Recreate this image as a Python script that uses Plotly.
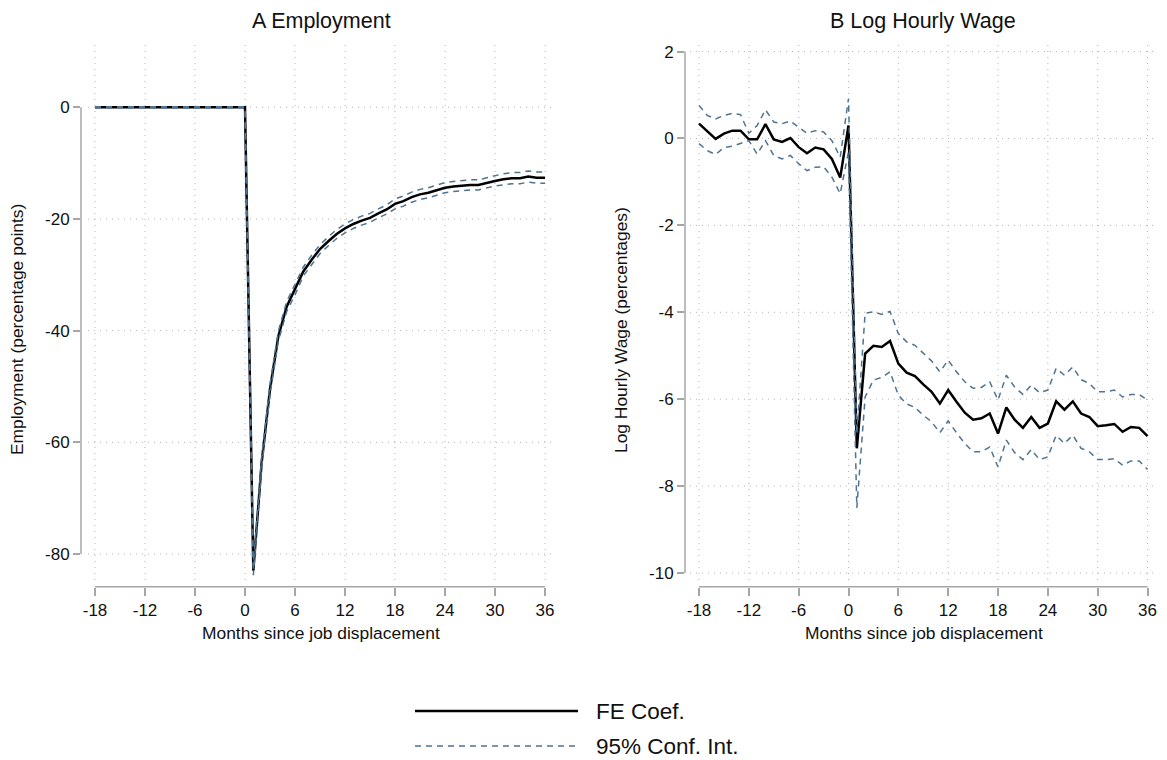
import plotly.graph_objects as go

W, H = 1167, 760

months = list(range(-18, 37))

# Panel A: employment effect (percentage points)
emp_coef = [0.0] * 19 + [
    -83.0, -63.6, -50.5, -41.0, -35.7, -32.7, -29.4, -27.3, -25.4, -24.0,
    -22.7, -21.7, -20.9, -20.3, -19.8, -19.0, -18.3, -17.3, -16.8, -16.1,
    -15.6, -15.3, -14.8, -14.4, -14.2, -14.0, -13.9, -13.9, -13.5, -13.2,
    -12.9, -12.7, -12.7, -12.4, -12.6, -12.6]
emp_upper = [0.1] * 19 + [
    -82.2, -62.7, -49.6, -40.1, -34.8, -31.8, -28.6, -26.5, -24.6, -23.2,
    -21.9, -20.9, -20.1, -19.5, -19.0, -18.2, -17.5, -16.4, -15.9, -15.2,
    -14.7, -14.4, -13.9, -13.5, -13.3, -13.1, -13.0, -13.0, -12.6, -12.3,
    -11.9, -11.7, -11.7, -11.4, -11.6, -11.6]
emp_lower = [-0.1] * 19 + [
    -83.8, -64.5, -51.4, -41.9, -36.6, -33.6, -30.2, -28.1, -26.2, -24.8,
    -23.5, -22.5, -21.7, -21.1, -20.6, -19.8, -19.1, -18.2, -17.7, -17.0,
    -16.5, -16.2, -15.7, -15.3, -15.1, -14.9, -14.8, -14.8, -14.4, -14.1,
    -13.9, -13.7, -13.7, -13.4, -13.6, -13.6]

# Panel B: log hourly wage effect (percentages)
wage_coef = [
    0.34, 0.17, -0.01, 0.11, 0.18, 0.18, -0.02, -0.02, 0.33, -0.02,
    -0.08, 0.01, -0.20, -0.34, -0.21, -0.25, -0.47, -0.90, 0.30,
    -7.13, -4.95, -4.77, -4.80, -4.66, -5.18, -5.39, -5.47, -5.66, -5.83,
    -6.10, -5.79, -6.06, -6.31, -6.47, -6.44, -6.33, -6.79, -6.19, -6.47,
    -6.66, -6.41, -6.66, -6.56, -6.05, -6.24, -6.05, -6.33, -6.41, -6.62,
    -6.60, -6.57, -6.75, -6.64, -6.66, -6.85]
wage_upper = [
    0.76, 0.53, 0.45, 0.53, 0.58, 0.55, 0.12, 0.30, 0.66, 0.38,
    0.34, 0.40, 0.26, 0.12, 0.18, 0.15, -0.05, -0.43, 0.92,
    -6.80, -4.02, -3.99, -4.05, -3.98, -4.49, -4.68, -4.76, -4.95, -5.12,
    -5.37, -5.10, -5.37, -5.60, -5.75, -5.73, -5.60, -6.02, -5.45, -5.72,
    -5.89, -5.68, -5.85, -5.79, -5.29, -5.45, -5.26, -5.55, -5.64, -5.83,
    -5.83, -5.79, -5.95, -5.89, -5.89, -6.02]
wage_lower = [
    -0.12, -0.28, -0.37, -0.21, -0.18, -0.12, -0.05, -0.36, -0.05, -0.39,
    -0.47, -0.39, -0.58, -0.74, -0.66, -0.65, -0.89, -1.27, -0.30,
    -8.50, -5.95, -5.56, -5.50, -5.37, -5.91, -6.11, -6.19, -6.37, -6.52,
    -6.77, -6.50, -6.77, -7.02, -7.21, -7.21, -7.10, -7.56, -6.94, -7.23,
    -7.39, -7.16, -7.39, -7.33, -6.83, -7.02, -6.83, -7.13, -7.21, -7.39,
    -7.39, -7.37, -7.52, -7.42, -7.42, -7.62]

x_ticks = list(range(-18, 37, 6))
emp_ticks = [0, -20, -40, -60, -80]
wage_ticks = [2, 0, -2, -4, -6, -8, -10]

FONT = "Liberation Sans, Arial, sans-serif"
TEXT_COLOR = "#111111"
COEF_COLOR = "#000000"
CI_COLOR = "#4f7390"
AXIS_COLOR = "#a6a6a6"
GRID_COLOR = "#b5b5b5"
CI_DASH = "6px,5px"
GRID_DASH = "1px,5px"


def px(x):
    return x / W


def py(y):
    return 1 - y / H


def labels(vals):
    # plain hyphen-minus for negative tick labels
    return [str(v) for v in vals]


fig = go.Figure()

for xa, ya, coef, up, lo in [("x", "y", emp_coef, emp_upper, emp_lower),
                             ("x2", "y2", wage_coef, wage_upper, wage_lower)]:
    fig.add_trace(go.Scatter(x=months, y=coef, mode="lines", xaxis=xa, yaxis=ya,
                             line=dict(color=COEF_COLOR, width=2.5),
                             name="FE Coef.", showlegend=False))
    for band in (up, lo):
        fig.add_trace(go.Scatter(x=months, y=band, mode="lines", xaxis=xa, yaxis=ya,
                                 line=dict(color=CI_COLOR, width=1.5, dash=CI_DASH),
                                 name="95% Conf. Int.", showlegend=False))

# pixel geometry of the two panels
axis_bottom = 586.7          # x axis line
plot_top, grid_bottom = 42, 580
panels = [
    dict(xa="x", ya="y", axis_left=81, grid_left=88, right=555,
         xrange=[-19.68, 37.2], yrange=[-85.86, 11.69], yticks=emp_ticks),
    dict(xa="x2", ya="y2", axis_left=685, grid_left=690, right=1157,
         xrange=[-19.686, 37.14], yrange=[-10.315, 2.22], yticks=wage_ticks),
]

tickfont = dict(family=FONT, size=17, color=TEXT_COLOR)
layout = dict(width=W, height=H, margin=dict(l=0, r=0, t=0, b=0),
              paper_bgcolor="white", plot_bgcolor="white", showlegend=False)
shapes = []

for i, p in enumerate(panels):
    sfx = "" if i == 0 else "2"
    layout["xaxis" + sfx] = dict(
        domain=[px(p["axis_left"]), px(p["right"])], range=p["xrange"],
        tickvals=x_ticks, ticktext=labels(x_ticks), ticks="outside", ticklen=8,
        tickwidth=1.5, tickcolor=AXIS_COLOR, showline=False, zeroline=False,
        showgrid=False, tickfont=tickfont, anchor="y" + sfx)
    layout["yaxis" + sfx] = dict(
        domain=[py(axis_bottom), py(plot_top)], range=p["yrange"],
        tickvals=p["yticks"], ticktext=labels(p["yticks"]), ticks="outside",
        ticklen=7, tickwidth=1.5, tickcolor=AXIS_COLOR, showline=False,
        zeroline=False, showgrid=False, tickfont=tickfont, anchor="x" + sfx)

    # dotted grid inside the plot region
    for xv in x_ticks:
        shapes.append(dict(type="line", layer="below", xref=p["xa"], yref="paper",
                           x0=xv, x1=xv, y0=py(grid_bottom), y1=py(plot_top),
                           line=dict(color=GRID_COLOR, width=1, dash=GRID_DASH)))
    for yv in p["yticks"]:
        shapes.append(dict(type="line", layer="below", xref="paper", yref=p["ya"],
                           x0=px(p["grid_left"]), x1=px(p["right"]), y0=yv, y1=yv,
                           line=dict(color=GRID_COLOR, width=1, dash=GRID_DASH)))

    # axis lines span only the labelled tick range
    shapes.append(dict(type="line", xref=p["xa"], yref="paper",
                       x0=x_ticks[0], x1=x_ticks[-1],
                       y0=py(axis_bottom), y1=py(axis_bottom),
                       line=dict(color=AXIS_COLOR, width=1.5)))
    shapes.append(dict(type="line", xref="paper", yref=p["ya"],
                       x0=px(p["axis_left"]), x1=px(p["axis_left"]),
                       y0=max(p["yticks"]), y1=min(p["yticks"]),
                       line=dict(color=AXIS_COLOR, width=1.5)))

# legend samples
shapes.append(dict(type="line", xref="paper", yref="paper",
                   x0=px(415), x1=px(578), y0=py(711), y1=py(711),
                   line=dict(color=COEF_COLOR, width=2.5)))
shapes.append(dict(type="line", xref="paper", yref="paper",
                   x0=px(415), x1=px(578), y0=py(746), y1=py(746),
                   line=dict(color=CI_COLOR, width=1.5, dash=CI_DASH)))

annotations = []


def text(x, y, s, size, xanchor="center", angle=0):
    annotations.append(dict(x=px(x), y=py(y), xref="paper", yref="paper", text=s,
                            showarrow=False, xanchor=xanchor, yanchor="middle",
                            textangle=angle, borderpad=0,
                            font=dict(family=FONT, size=size, color=TEXT_COLOR)))


text(321, 21, "A Employment", 21.5)
text(923, 21, "B Log Hourly Wage", 21.5)
text(321, 633, "Months since job displacement", 17.4)
text(924, 633, "Months since job displacement", 17.4)
text(17, 330, "Employment (percentage points)", 17.4, angle=-90)
text(621, 330, "Log Hourly Wage (percentages)", 17.4, angle=-90)
text(595, 711, "FE Coef.", 22.5, xanchor="left")
text(595, 746, "95% Conf. Int.", 22.5, xanchor="left")

layout["shapes"] = shapes
layout["annotations"] = annotations
fig.update_layout(**layout)

fig.write_html("out.html")
